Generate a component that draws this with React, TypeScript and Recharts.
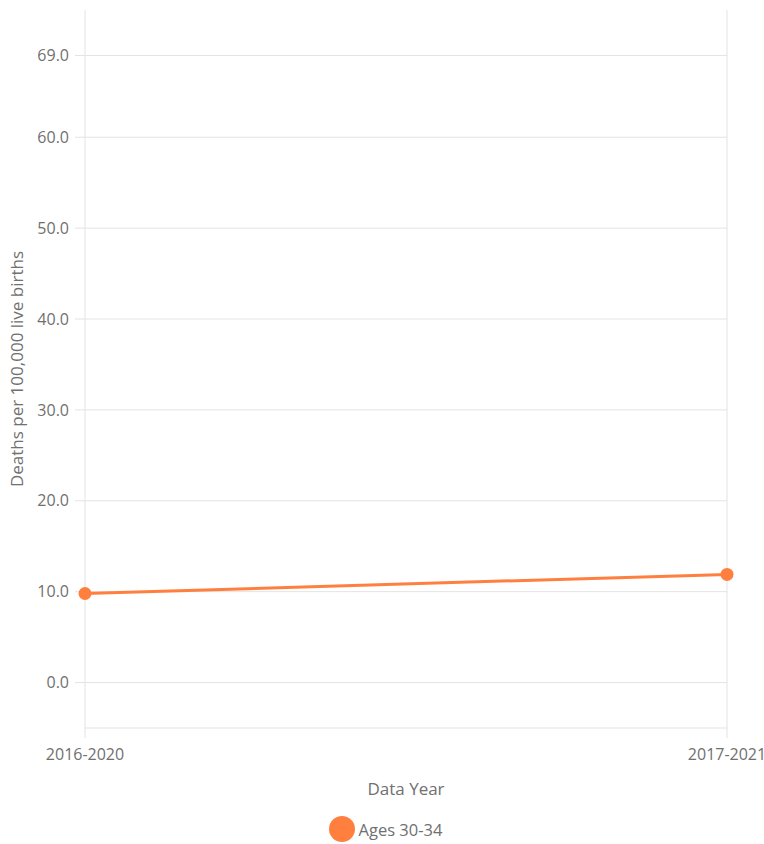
import React from 'react';
import { LineChart, Line, XAxis, YAxis, CartesianGrid, Legend, ReferenceLine } from 'recharts';

const years = ['2016-2020', '2017-2021'];
const ages3034 = [9.8, 11.9];
const yTicks = [0, 10, 20, 30, 40, 50, 60, 69];

const data = years.map((year, i) => ({ year, value: ages3034[i] }));

const ORANGE = '#ff7f3f';
const GRID = '#e3e3e3';
const TEXT = '#707070';
const FONT = '"Open Sans", sans-serif';

const renderLegend = () => (
  <div style={{ display: 'flex', justifyContent: 'center', alignItems: 'center', fontFamily: FONT, fontSize: 16.5, color: TEXT, paddingTop: 18, marginLeft: 44 }}>
    <span style={{ width: 26, height: 26, borderRadius: '50%', background: ORANGE, display: 'inline-block', marginRight: 4 }} />
    <span>Ages 30-34</span>
  </div>
);

export default function App() {
  return (
    <div style={{ position: 'absolute', left: 0, top: 0, width: 764, height: 844 }}>
      <LineChart width={764} height={844} data={data} margin={{ top: 10, right: 37, left: 0, bottom: 0 }}>
        <CartesianGrid stroke={GRID} horizontal={false} />
        {yTicks.map((t) => (
          <ReferenceLine key={t} y={t} stroke={GRID} />
        ))}
        <XAxis
          dataKey="year"
          padding={{ left: 0, right: 0 }}
          height={70}
          axisLine={{ stroke: GRID }}
          tickLine={{ stroke: GRID }}
          tickSize={10}
          tickMargin={11}
          tick={{ fill: TEXT, fontSize: 16, fontFamily: FONT }}
          interval={0}
          label={{ value: 'Data Year', position: 'insideBottom', offset: 3, fill: TEXT, fontSize: 17, fontFamily: FONT }}
        />
        <YAxis
          domain={[-5, 74]}
          ticks={yTicks}
          width={85}
          axisLine={false}
          tickLine={{ stroke: GRID }}
          tickSize={10}
          tickMargin={6}
          tick={{ fill: TEXT, fontSize: 16, fontFamily: FONT }}
          tickFormatter={(v: number) => v.toFixed(1)}
          label={{ value: 'Deaths per 100,000 live births', angle: -90, position: 'insideLeft', offset: 17, fill: TEXT, fontSize: 17, fontFamily: FONT, style: { textAnchor: 'middle' } }}
        />
        <Legend verticalAlign="bottom" height={46} content={renderLegend} />
        <Line
          type="linear"
          dataKey="value"
          name="Ages 30-34"
          stroke={ORANGE}
          strokeWidth={3}
          dot={{ r: 6.5, fill: ORANGE, stroke: ORANGE, strokeWidth: 0 }}
          activeDot={false}
          isAnimationActive={false}
        />
      </LineChart>
    </div>
  );
}
